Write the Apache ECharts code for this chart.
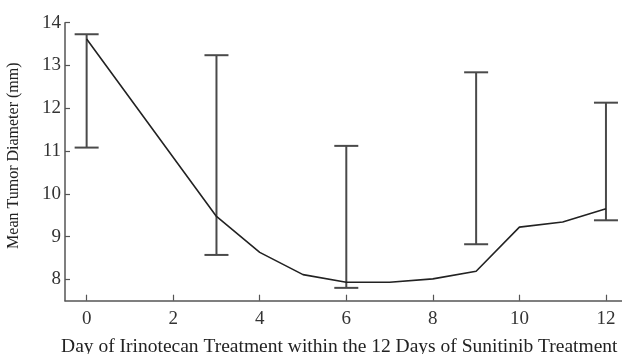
<!DOCTYPE html>
<html>
<head>
<meta charset="utf-8">
<script src="https://cdn.jsdelivr.net/npm/echarts@6/dist/echarts.min.js"></script>
<style>html,body{margin:0;padding:0;background:#fff;}#chart{width:622px;height:354px;}</style>
</head>
<body>
<div id="chart"></div>
<script>
var days = [0, 3, 4, 5, 6, 7, 8, 9, 10, 11, 12];
var meanDiameter = [13.62, 9.47, 8.63, 8.11, 7.93, 7.93, 8.01, 8.19, 9.22, 9.34, 9.65];
var errDays = [0, 3, 6, 9, 12];
var errLow = [11.08, 8.57, 7.8, 8.82, 9.38];
var errHigh = [13.73, 13.24, 11.12, 12.84, 12.13];
var xTicks = [0, 2, 4, 6, 8, 10, 12];
var yTicks = [8, 9, 10, 11, 12, 13, 14];
var xTitle = 'Day of Irinotecan Treatment within the 12 Days of Sunitinib Treatment';
var yTitle = 'Mean Tumor Diameter (mm)';

var lineData = days.map(function (d, i) { return [d, meanDiameter[i]]; });
var errData = errDays.map(function (d, i) { return [d, errLow[i], errHigh[i]]; });

var chart = echarts.init(document.getElementById('chart'), null, {renderer: 'canvas'});
var axisColor = '#555';
var font = 'Liberation Serif';
chart.setOption({
  animation: false,
  backgroundColor: '#fff',
  grid: {left: 65, top: 22.7, width: 562.6, height: 278, containLabel: false, outerBoundsMode: 'none'},
  xAxis: {
    type: 'value', min: -0.5, max: 12.5,
    name: xTitle, nameLocation: 'middle', nameGap: 36,
    nameTextStyle: {fontFamily: font, fontSize: 19.5, color: '#222', padding: [0, 14, 0, 0]},
    axisLine: {show: true, onZero: false, lineStyle: {color: axisColor, width: 1.5}},
    axisTick: {show: true, inside: true, length: 6, customValues: xTicks, lineStyle: {color: axisColor, width: 1.2}},
    axisLabel: {customValues: xTicks, fontFamily: font, fontSize: 19, color: '#333', margin: 9},
    splitLine: {show: false}
  },
  yAxis: {
    type: 'value', min: 7.5, max: 14,
    name: yTitle, nameLocation: 'middle', nameGap: 43, nameRotate: 90,
    nameTextStyle: {fontFamily: font, fontSize: 16, color: '#222', padding: [0, 0, 0, 12]},
    axisLine: {show: true, onZero: false, lineStyle: {color: axisColor, width: 1.5}},
    axisTick: {show: true, inside: true, length: 5, customValues: yTicks, lineStyle: {color: axisColor, width: 1.2}},
    axisLabel: {customValues: yTicks, fontFamily: font, fontSize: 19, color: '#333', margin: 4},
    splitLine: {show: false}
  },
  series: [
    {
      type: 'line', data: lineData, symbol: 'none',
      lineStyle: {color: '#222', width: 1.6}, z: 3
    },
    {
      type: 'custom', data: errData, z: 2,
      renderItem: function (params, api) {
        var x = api.value(0);
        var lo = api.coord([x, api.value(1)]);
        var hi = api.coord([x, api.value(2)]);
        var hw = 12;
        var st = {stroke: '#4a4a4a', lineWidth: 2, fill: null};
        return {
          type: 'group',
          children: [
            {type: 'line', shape: {x1: lo[0], y1: lo[1], x2: hi[0], y2: hi[1]}, style: st},
            {type: 'line', shape: {x1: lo[0] - hw, y1: lo[1], x2: lo[0] + hw, y2: lo[1]}, style: st},
            {type: 'line', shape: {x1: hi[0] - hw, y1: hi[1], x2: hi[0] + hw, y2: hi[1]}, style: st}
          ]
        };
      }
    }
  ]
});
</script>
</body>
</html>
